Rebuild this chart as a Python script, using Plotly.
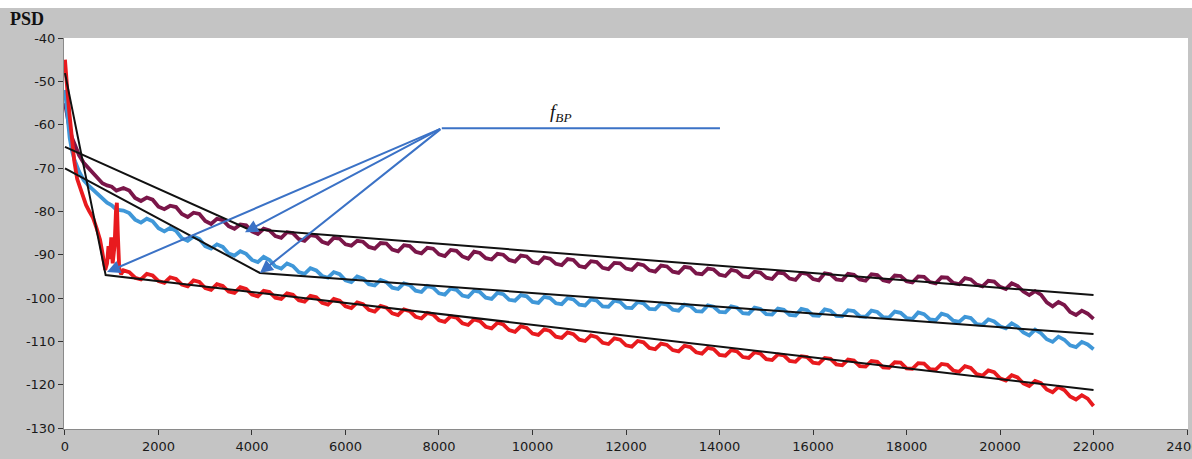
import plotly.graph_objects as go

# ---------------- data ----------------
# sample frequencies (Hz): main grid and the points half-way between them
freq_main = list(range(1250, 22001, 250))   # 84 samples
freq_mid = list(range(1375, 22000, 250))    # 83 samples

purple_freq_early = [0, 30, 60, 100, 150, 200, 300, 400, 500, 600, 700, 800, 900, 1000, 1100]
purple_psd_early = [-55, -57, -59, -61, -63, -64.5, -67, -68.8, -70, -71.2, -72.5, -73.5, -74, -74.3, -75.2]
purple_psd_main = [-74.6, -76.9, -76.8, -78.9, -78.7, -80.6, -80.3, -82.2, -81.7, -83.4, -83.0, -84.6,
                   -84.0, -85.7, -84.8, -86.4, -85.5, -87.0, -86.1, -87.6, -86.8, -88.2, -87.3, -88.8,
                   -87.8, -89.3, -88.4, -89.9, -88.9, -90.4, -89.3, -90.8, -89.8, -91.2, -90.2, -91.7,
                   -90.6, -92.1, -91.0, -92.6, -91.5, -93.0, -91.9, -93.2, -92.1, -93.6, -92.5, -93.9,
                   -92.8, -94.3, -93.2, -94.6, -93.5, -95.0, -93.9, -95.3, -94.1, -95.5, -94.2, -95.6,
                   -94.3, -95.7, -94.4, -95.7, -94.5, -95.9, -94.8, -96.1, -95.0, -96.3, -95.2, -96.5,
                   -95.4, -96.9, -96.0, -97.4, -96.6, -98.5, -98.4, -101.0, -100.9, -103.2, -102.9, -104.8]
purple_psd_mid = [-75.2, -77.6, -77.3, -79.5, -79.0, -81.3, -80.6, -82.9, -82.0, -84.0, -83.2, -85.2,
                  -84.4, -86.1, -85.0, -86.8, -85.7, -87.5, -86.3, -87.9, -87.0, -88.6, -87.4, -89.2,
                  -88.0, -89.7, -88.6, -90.3, -89.1, -90.9, -89.6, -91.1, -90.0, -91.6, -90.4, -92.0,
                  -90.9, -92.4, -91.2, -92.9, -91.7, -93.3, -92.0, -93.5, -92.4, -93.9, -92.7, -94.2,
                  -93.0, -94.5, -93.4, -94.9, -93.8, -95.2, -94.1, -95.6, -94.3, -95.8, -94.4, -95.9,
                  -94.5, -95.9, -94.6, -96.0, -94.7, -96.2, -94.9, -96.4, -95.1, -96.6, -95.3, -96.8,
                  -95.7, -97.3, -96.2, -97.9, -97.2, -99.3, -99.2, -101.9, -101.6, -103.9, -103.6]

blue_freq_early = [0, 30, 60, 100, 150, 200, 300, 400, 500, 600, 750, 900, 1000, 1100]
blue_psd_early = [-52, -56, -60, -63, -66, -68, -70.8, -72.8, -74, -75, -76.5, -78, -78.6, -79.6]
blue_psd_main = [-79.8, -81.9, -81.7, -83.9, -83.8, -86.2, -85.8, -88.0, -87.6, -89.7, -89.2, -91.2,
                 -90.5, -92.7, -92.0, -94.0, -93.1, -94.9, -94.0, -95.9, -95.0, -96.8, -95.8, -97.6,
                 -96.6, -98.3, -97.2, -98.9, -97.8, -99.4, -98.3, -99.9, -98.8, -100.4, -99.3, -100.9,
                 -99.7, -101.2, -100.0, -101.5, -100.3, -101.9, -100.6, -102.2, -100.9, -102.5, -101.2, -102.7,
                 -101.5, -103.0, -101.7, -103.2, -101.9, -103.5, -102.2, -103.7, -102.4, -103.9, -102.5, -104.0,
                 -102.6, -104.1, -102.8, -104.2, -102.9, -104.4, -103.1, -104.6, -103.3, -104.9, -103.6, -105.2,
                 -104.3, -106.0, -104.9, -106.5, -105.8, -107.9, -107.3, -109.5, -108.9, -110.9, -110.1, -111.8]
blue_psd_mid = [-80.4, -82.6, -82.3, -84.6, -84.5, -86.8, -86.4, -88.6, -88.2, -90.2, -89.8, -91.7,
                -91.2, -93.2, -92.6, -94.4, -93.6, -95.3, -94.5, -96.3, -95.5, -97.1, -96.3, -97.9,
                -97.0, -98.6, -97.6, -99.2, -98.1, -99.7, -98.6, -100.2, -99.1, -100.6, -99.6, -101.1,
                -100.0, -101.4, -100.3, -101.7, -100.6, -102.0, -100.9, -102.3, -101.2, -102.6, -101.5, -102.9,
                -101.8, -103.1, -102.0, -103.3, -102.2, -103.6, -102.5, -103.8, -102.7, -104.0, -102.8, -104.1,
                -102.9, -104.2, -103.0, -104.3, -103.2, -104.5, -103.4, -104.8, -103.7, -105.1, -104.0, -105.5,
                -104.6, -106.2, -105.4, -107.0, -106.6, -108.6, -108.1, -110.1, -109.6, -111.3, -110.7]

red_freq_early = [0, 20, 50, 100, 150, 200, 260, 320, 380, 450, 520, 600, 680, 750, 800, 860,
                  900, 930, 960, 990, 1020, 1060, 1090, 1110, 1130, 1160, 1200]
red_psd_early = [-45, -47, -52, -58, -64, -68.5, -72.5, -74.5, -76.5, -78.5, -80, -81.5, -84, -86.5, -89.5, -93.5,
                 -92, -88, -91, -86, -92, -88, -80, -78, -85, -93, -94.5]
red_psd_main = [-93.6, -95.3, -94.4, -96.1, -95.2, -96.9, -95.9, -97.7, -96.8, -98.5, -97.5, -99.2,
                -98.3, -99.9, -98.9, -100.5, -99.5, -101.1, -100.2, -101.9, -101.0, -102.7, -101.8, -103.5,
                -102.6, -104.3, -103.4, -105.1, -104.2, -105.8, -104.9, -106.6, -105.7, -107.4, -106.5, -108.2,
                -107.2, -108.9, -107.9, -109.6, -108.6, -110.3, -109.3, -110.9, -109.9, -111.5, -110.5, -112.0,
                -111.0, -112.5, -111.5, -113.1, -112.0, -113.6, -112.5, -114.1, -113.0, -114.5, -113.4, -114.9,
                -113.8, -115.3, -114.2, -115.7, -114.5, -116.0, -114.8, -116.2, -115.0, -116.4, -115.2, -116.7,
                -115.7, -117.5, -116.7, -118.5, -117.8, -119.7, -119.1, -121.1, -120.5, -122.7, -122.4, -124.9]
red_psd_mid = [-94.0, -95.7, -94.8, -96.5, -95.6, -97.3, -96.3, -98.1, -97.2, -98.8, -97.9, -99.6,
               -98.6, -100.2, -99.2, -100.8, -99.8, -101.5, -100.6, -102.3, -101.4, -103.1, -102.2, -103.9,
               -103.0, -104.7, -103.8, -105.5, -104.5, -106.2, -105.3, -107.0, -106.1, -107.8, -106.9, -108.5,
               -107.6, -109.2, -108.3, -109.9, -109.0, -110.6, -109.6, -111.2, -110.2, -111.8, -110.8, -112.3,
               -111.3, -112.8, -111.8, -113.3, -112.3, -113.8, -112.8, -114.3, -113.2, -114.7, -113.6, -115.1,
               -114.0, -115.5, -114.4, -115.8, -114.7, -116.1, -114.9, -116.3, -115.1, -116.5, -115.4, -117.0,
               -116.1, -117.9, -117.1, -119.0, -118.3, -120.3, -119.6, -121.7, -121.2, -123.4, -123.2]

# piecewise-linear fits (black lines): breakpoints
fit_purple_freq = [0, 3900, 22000]
fit_purple_psd = [-65.1, -84.0, -99.3]
fit_blue_freq = [0, 4170, 22000]
fit_blue_psd = [-70.1, -94.2, -108.3]
fit_red_freq = [0, 870, 22000]
fit_red_psd = [-48.1, -94.7, -121.2]

# f_BP annotation leader
label_freq = [8060, 14010]
label_psd = [-60.8, -60.8]
arrow_tips_freq = [900, 3850, 4170]
arrow_tips_psd = [-94.0, -84.8, -94.2]

x_ticks = [0, 2000, 4000, 6000, 8000, 10000, 12000, 14000, 16000, 18000, 20000, 22000, 24000]
y_ticks = [-40, -50, -60, -70, -80, -90, -100, -110, -120, -130]


def merge(early_f, early_v, main_v, mid_v):
    """Put the early samples, then main/mid samples in frequency order."""
    fx, fy = list(early_f), list(early_v)
    for i in range(len(freq_main)):
        fx.append(freq_main[i]); fy.append(main_v[i])
        if i < len(freq_mid):
            fx.append(freq_mid[i]); fy.append(mid_v[i])
    return fx, fy


# ---------------- figure ----------------
PURPLE = "#7a1649"
BLUE = "#3f97d8"
RED = "#e81a1e"
ARROW = "#3b72c6"

fig = go.Figure()
for (fx, fy), col in [
    (merge(purple_freq_early, purple_psd_early, purple_psd_main, purple_psd_mid), PURPLE),
    (merge(blue_freq_early, blue_psd_early, blue_psd_main, blue_psd_mid), BLUE),
    (merge(red_freq_early, red_psd_early, red_psd_main, red_psd_mid), RED),
]:
    fig.add_trace(go.Scatter(x=fx, y=fy, mode="lines",
                             line=dict(color=col, width=3.8), hoverinfo="skip"))

for fx, fy in [(fit_purple_freq, fit_purple_psd), (fit_blue_freq, fit_blue_psd),
               (fit_red_freq, fit_red_psd)]:
    fig.add_trace(go.Scatter(x=fx, y=fy, mode="lines",
                             line=dict(color="#111111", width=2), hoverinfo="skip"))

fig.add_trace(go.Scatter(x=label_freq, y=label_psd, mode="lines",
                         line=dict(color=ARROW, width=2), hoverinfo="skip"))

for tx, ty in zip(arrow_tips_freq, arrow_tips_psd):
    fig.add_annotation(x=tx, y=ty, ax=label_freq[0], ay=label_psd[0],
                       xref="x", yref="y", axref="x", ayref="y", text="",
                       showarrow=True, arrowhead=2, arrowsize=1.3, arrowwidth=2,
                       arrowcolor=ARROW, standoff=0)

fig.add_annotation(x=10620, y=-57.3, xref="x", yref="y", showarrow=False,
                   text="<i>f</i><sub><i>BP</i></sub>",
                   font=dict(family="Liberation Serif, serif", size=19, color="#111111"))

fig.add_annotation(x=-0.050, y=1.049, xref="paper", yref="paper", showarrow=False,
                   xanchor="left", yanchor="middle", text="<b>PSD</b>",
                   font=dict(family="Liberation Serif, serif", size=18, color="#111111"))

# white strip at the very top of the picture
fig.add_shape(type="rect", xref="paper", yref="paper", x0=-0.06, x1=1.01,
              y0=1.077, y1=1.2, fillcolor="white", line=dict(width=0), layer="below")

axis_font = dict(family="DejaVu Sans", size=13, color="#1a1a1a")
fig.update_layout(
    width=1192, height=459,
    margin=dict(l=64, r=4, t=38, b=30, autoexpand=False),
    paper_bgcolor="#c4c4c4", plot_bgcolor="white",
    showlegend=False,
    xaxis=dict(range=[-21, 24021], tickvals=x_ticks, ticktext=[str(v) for v in x_ticks],
               showgrid=False, zeroline=False, ticks="outside", ticklen=5, tickwidth=1,
               tickcolor="#333333", showline=True, linecolor="#8a8a8a", linewidth=1,
               tickfont=axis_font, automargin=False, ticklabeloverflow="allow"),
    yaxis=dict(range=[-130.2, -40], tickvals=y_ticks, ticktext=[str(v) for v in y_ticks],
               showgrid=False, zeroline=False, ticks="outside", ticklen=5, tickwidth=1,
               tickcolor="#333333", showline=True, linecolor="#8a8a8a", linewidth=1,
               tickfont=axis_font, automargin=False, ticklabeloverflow="allow"),
)

fig.write_html("out.html", config={"displayModeBar": False},
               post_script="document.body.style.margin='0';")
